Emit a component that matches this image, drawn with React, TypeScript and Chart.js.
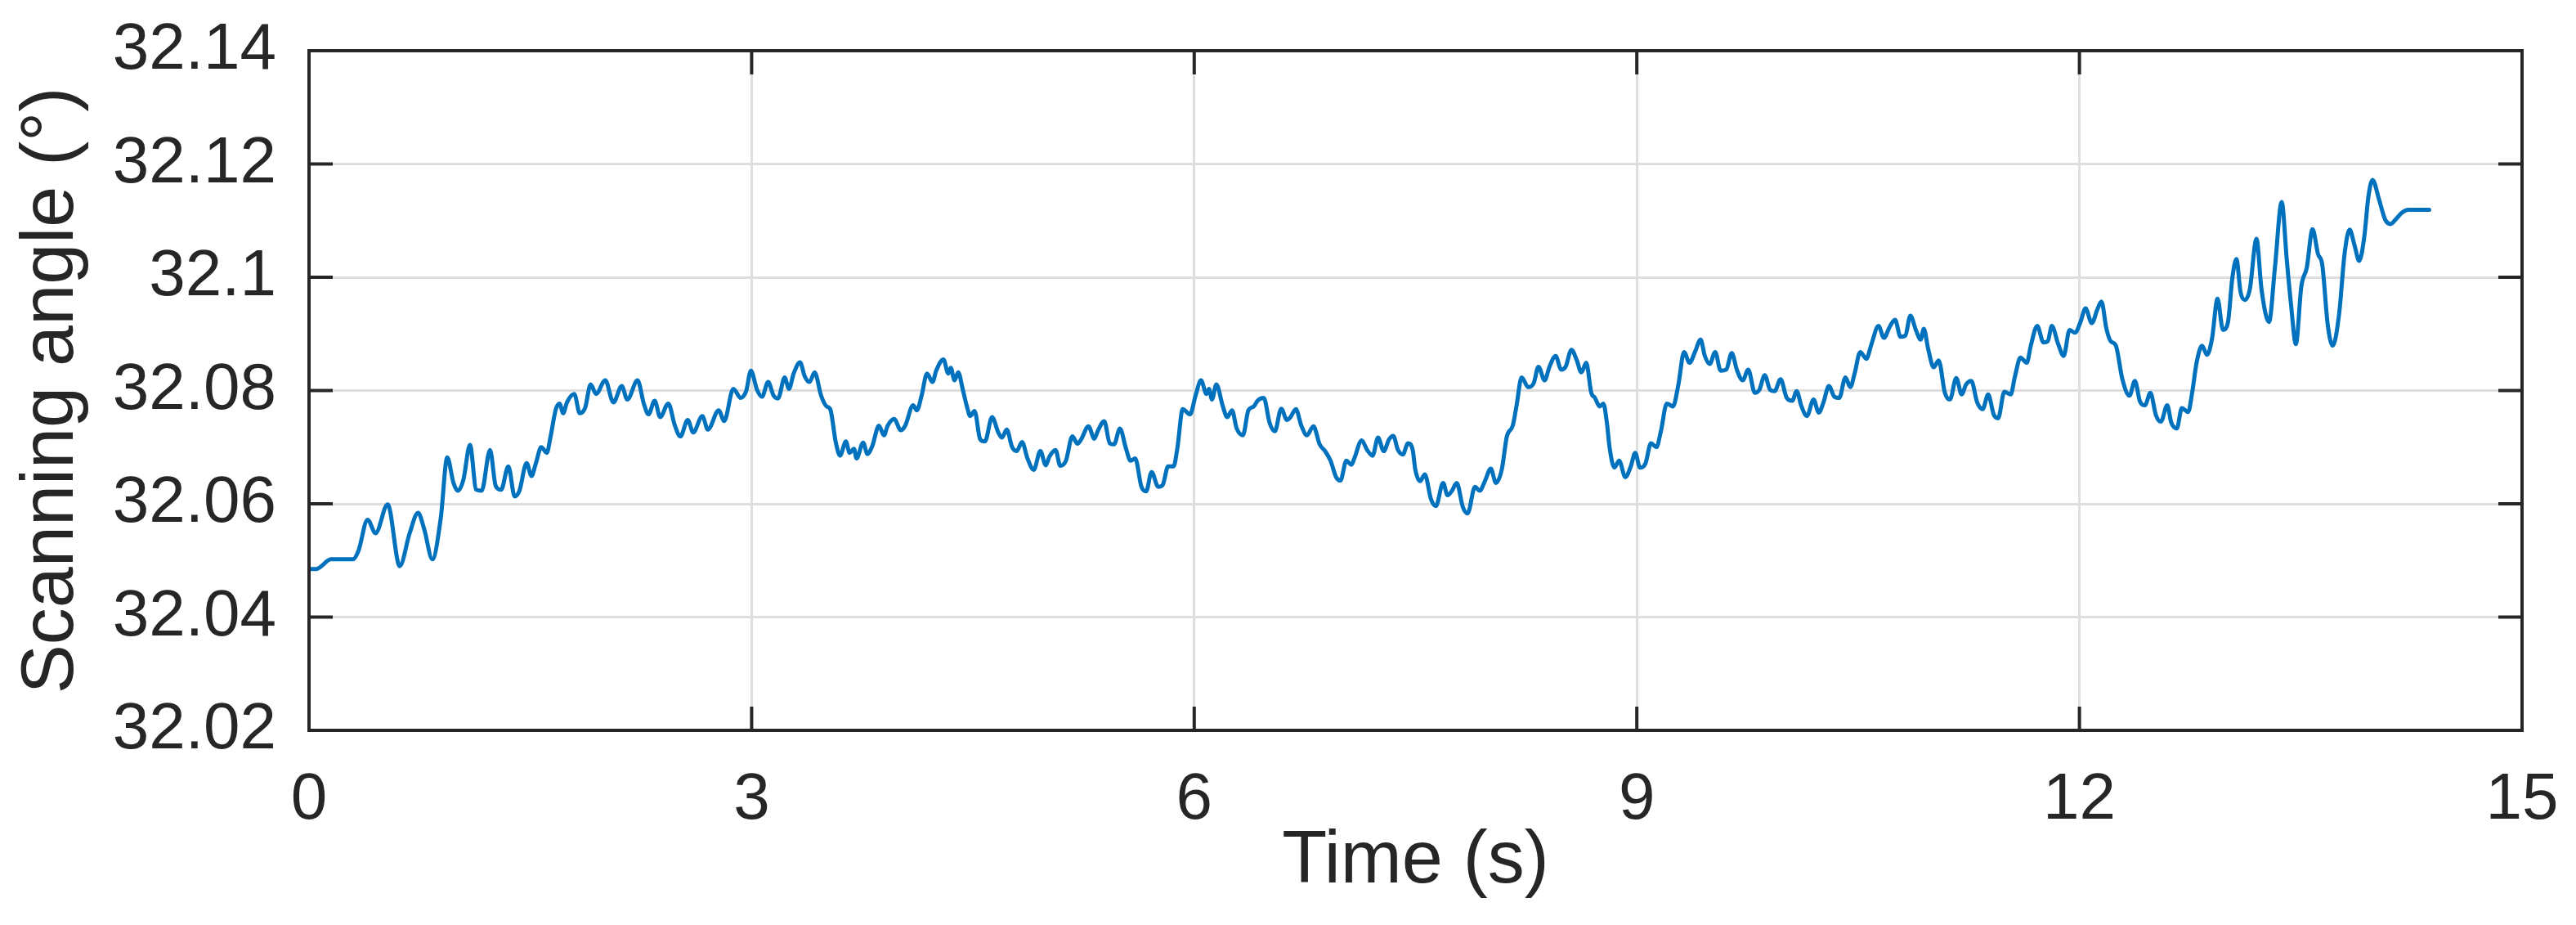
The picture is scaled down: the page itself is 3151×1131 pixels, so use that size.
import React, { useEffect, useRef } from "react";
import { Chart, registerables } from "chart.js";

Chart.register(...registerables);

// ---- data ----
const timeS = [
  0.000, 0.050, 0.149, 0.298, 0.335, 0.397, 0.451, 0.533, 0.615, 0.682, 0.739, 0.781, 0.836, 0.893, 0.937, 0.979,
  1.009, 1.046, 1.091, 1.133, 1.170, 1.227, 1.265, 1.302, 1.351, 1.394, 1.426, 1.475, 1.508, 1.537, 1.574, 1.612,
  1.636, 1.673, 1.698, 1.723, 1.748, 1.798, 1.835, 1.872, 1.909, 1.946, 2.008, 2.063, 2.120, 2.157, 2.227, 2.269,
  2.301, 2.343, 2.380, 2.435, 2.480, 2.517, 2.567, 2.604, 2.666, 2.703, 2.777, 2.814, 2.876, 2.926, 2.963, 2.995,
  3.037, 3.070, 3.112, 3.149, 3.179, 3.224, 3.253, 3.285, 3.328, 3.360, 3.392, 3.427, 3.471, 3.508, 3.533, 3.570,
  3.599, 3.639, 3.664, 3.694, 3.711, 3.756, 3.785, 3.818, 3.863, 3.897, 3.922, 3.966, 4.011, 4.041, 4.095, 4.120,
  4.152, 4.189, 4.226, 4.251, 4.300, 4.333, 4.350, 4.375, 4.400, 4.432, 4.457, 4.482, 4.511, 4.549, 4.581, 4.630,
  4.672, 4.697, 4.729, 4.766, 4.796, 4.833, 4.870, 4.912, 4.957, 4.994, 5.018, 5.060, 5.092, 5.130, 5.174, 5.209,
  5.234, 5.283, 5.323, 5.347, 5.390, 5.427, 5.457, 5.496, 5.538, 5.568, 5.600, 5.642, 5.674, 5.711, 5.756, 5.786,
  5.823, 5.860, 5.885, 5.922, 5.972, 6.009, 6.046, 6.083, 6.100, 6.120, 6.150, 6.194, 6.224, 6.256, 6.288, 6.330,
  6.367, 6.404, 6.429, 6.471, 6.511, 6.546, 6.590, 6.628, 6.652, 6.689, 6.726, 6.764, 6.808, 6.850, 6.887, 6.924,
  6.962, 6.991, 7.031, 7.066, 7.085, 7.135, 7.172, 7.209, 7.246, 7.284, 7.321, 7.349, 7.381, 7.414, 7.449, 7.481,
  7.498, 7.531, 7.563, 7.605, 7.638, 7.687, 7.717, 7.747, 7.779, 7.821, 7.853, 7.903, 7.935, 7.970, 8.010, 8.045,
  8.085, 8.119, 8.159, 8.184, 8.219, 8.264, 8.301, 8.333, 8.375, 8.408, 8.450, 8.487, 8.517, 8.557, 8.592, 8.624,
  8.657, 8.691, 8.716, 8.748, 8.773, 8.798, 8.815, 8.848, 8.880, 8.922, 8.959, 8.989, 9.021, 9.058, 9.096, 9.133,
  9.163, 9.203, 9.245, 9.282, 9.320, 9.357, 9.394, 9.432, 9.461, 9.494, 9.531, 9.568, 9.606, 9.643, 9.680, 9.718,
  9.755, 9.800, 9.830, 9.867, 9.904, 9.934, 9.974, 10.016, 10.054, 10.083, 10.116, 10.153, 10.198, 10.233, 10.265, 10.302,
  10.339, 10.372, 10.414, 10.447, 10.476, 10.514, 10.556, 10.588, 10.638, 10.675, 10.713, 10.750, 10.787, 10.820, 10.854, 10.894,
  10.924, 10.945, 10.975, 11.012, 11.046, 11.088, 11.122, 11.165, 11.202, 11.230, 11.267, 11.307, 11.344, 11.381, 11.420, 11.449,
  11.491, 11.534, 11.563, 11.600, 11.643, 11.671, 11.714, 11.756, 11.785, 11.813, 11.856, 11.893, 11.933, 11.970, 12.007, 12.041,
  12.084, 12.121, 12.149, 12.183, 12.212, 12.246, 12.291, 12.339, 12.376, 12.410, 12.444, 12.481, 12.518, 12.552, 12.595, 12.623,
  12.660, 12.694, 12.737, 12.765, 12.794, 12.831, 12.865, 12.899, 12.936, 12.973, 13.007, 13.036, 13.064, 13.092, 13.121, 13.155,
  13.200, 13.234, 13.285, 13.325, 13.371, 13.405, 13.433, 13.467, 13.504, 13.541, 13.580, 13.617, 13.646, 13.683, 13.717, 13.760,
  13.797, 13.831, 13.865, 13.896, 13.930, 13.959, 13.987, 14.030, 14.072, 14.109, 14.143, 14.186, 14.229, 14.371,
];

const angleDeg = [
  32.0485, 32.0485, 32.0502, 32.0502, 32.0517, 32.0572, 32.0548, 32.0599, 32.0490, 32.0548, 32.0584, 32.0555, 32.0502, 32.0575, 32.0682, 32.0637,
  32.0623, 32.0642, 32.0704, 32.0625, 32.0623, 32.0695, 32.0632, 32.0625, 32.0666, 32.0613, 32.0623, 32.0672, 32.0649, 32.0671, 32.0700, 32.0690,
  32.0717, 32.0767, 32.0777, 32.0760, 32.0779, 32.0794, 32.0760, 32.0770, 32.0811, 32.0794, 32.0818, 32.0779, 32.0808, 32.0784, 32.0818, 32.0777,
  32.0758, 32.0782, 32.0753, 32.0777, 32.0738, 32.0719, 32.0748, 32.0726, 32.0755, 32.0731, 32.0765, 32.0746, 32.0803, 32.0787, 32.0799, 32.0835,
  32.0801, 32.0789, 32.0815, 32.0791, 32.0786, 32.0823, 32.0803, 32.0830, 32.0850, 32.0825, 32.0815, 32.0832, 32.0791, 32.0772, 32.0767, 32.0709,
  32.0685, 32.0710, 32.0690, 32.0697, 32.0680, 32.0708, 32.0688, 32.0702, 32.0738, 32.0721, 32.0738, 32.0750, 32.0730, 32.0738, 32.0774, 32.0765,
  32.0791, 32.0830, 32.0815, 32.0835, 32.0855, 32.0830, 32.0840, 32.0818, 32.0832, 32.0801, 32.0774, 32.0755, 32.0764, 32.0714, 32.0710, 32.0753,
  32.0726, 32.0717, 32.0731, 32.0700, 32.0693, 32.0709, 32.0680, 32.0660, 32.0693, 32.0668, 32.0683, 32.0695, 32.0667, 32.0676, 32.0719, 32.0706,
  32.0714, 32.0737, 32.0715, 32.0729, 32.0746, 32.0707, 32.0705, 32.0733, 32.0697, 32.0676, 32.0680, 32.0630, 32.0622, 32.0656, 32.0630, 32.0633,
  32.0666, 32.0666, 32.0697, 32.0767, 32.0758, 32.0791, 32.0818, 32.0794, 32.0803, 32.0784, 32.0811, 32.0772, 32.0753, 32.0765, 32.0733, 32.0721,
  32.0765, 32.0772, 32.0782, 32.0787, 32.0743, 32.0728, 32.0768, 32.0748, 32.0753, 32.0767, 32.0738, 32.0721, 32.0737, 32.0705, 32.0693, 32.0676,
  32.0647, 32.0641, 32.0676, 32.0669, 32.0680, 32.0712, 32.0695, 32.0685, 32.0717, 32.0693, 32.0714, 32.0720, 32.0695, 32.0687, 32.0707, 32.0695,
  32.0661, 32.0640, 32.0652, 32.0608, 32.0596, 32.0637, 32.0615, 32.0623, 32.0637, 32.0594, 32.0583, 32.0630, 32.0623, 32.0640, 32.0662, 32.0637,
  32.0661, 32.0719, 32.0738, 32.0772, 32.0823, 32.0806, 32.0813, 32.0842, 32.0818, 32.0842, 32.0861, 32.0837, 32.0842, 32.0872, 32.0854, 32.0832,
  32.0849, 32.0796, 32.0787, 32.0772, 32.0777, 32.0741, 32.0700, 32.0664, 32.0676, 32.0647, 32.0666, 32.0690, 32.0664, 32.0671, 32.0707, 32.0700,
  32.0728, 32.0777, 32.0772, 32.0811, 32.0868, 32.0849, 32.0868, 32.0890, 32.0861, 32.0847, 32.0868, 32.0835, 32.0837, 32.0866, 32.0835, 32.0818,
  32.0837, 32.0796, 32.0801, 32.0827, 32.0801, 32.0799, 32.0820, 32.0787, 32.0782, 32.0799, 32.0772, 32.0755, 32.0784, 32.0761, 32.0779, 32.0808,
  32.0789, 32.0787, 32.0823, 32.0806, 32.0830, 32.0868, 32.0856, 32.0880, 32.0914, 32.0893, 32.0912, 32.0925, 32.0895, 32.0897, 32.0932, 32.0905,
  32.0890, 32.0909, 32.0873, 32.0841, 32.0853, 32.0796, 32.0784, 32.0822, 32.0793, 32.0810, 32.0817, 32.0779, 32.0767, 32.0793, 32.0757, 32.0751,
  32.0798, 32.0793, 32.0825, 32.0858, 32.0849, 32.0880, 32.0914, 32.0885, 32.0887, 32.0914, 32.0882, 32.0861, 32.0907, 32.0902, 32.0921, 32.0945,
  32.0919, 32.0943, 32.0957, 32.0909, 32.0887, 32.0880, 32.0820, 32.0791, 32.0817, 32.0781, 32.0774, 32.0796, 32.0757, 32.0745, 32.0774, 32.0743,
  32.0733, 32.0769, 32.0762, 32.0798, 32.0849, 32.0879, 32.0863, 32.0892, 32.0962, 32.0907, 32.0921, 32.0998, 32.1032, 32.0974, 32.0960, 32.0979,
  32.1068, 32.0979, 32.0921, 32.1017, 32.1133, 32.1032, 32.0955, 32.0882, 32.0984, 32.1017, 32.1085, 32.1041, 32.1022, 32.0916, 32.0879, 32.0935,
  32.1041, 32.1084, 32.1056, 32.1029, 32.1070, 32.1143, 32.1172, 32.1138, 32.1102, 32.1094, 32.1102, 32.1114, 32.1119, 32.1119,
];

const xTickValues = [0, 3, 6, 9, 12, 15];
const xTickLabels = ["0", "3", "6", "9", "12", "15"];
const yTickValues = [32.02, 32.04, 32.06, 32.08, 32.1, 32.12, 32.14];
const yTickLabels = ["32.02", "32.04", "32.06", "32.08", "32.1", "32.12", "32.14"];
const xTitle = "Time (s)";
const yTitle = "Scanning angle (°)";

// ---- layout / style ----
const W = 3151;
const H = 1131;
const FONT = '"Liberation Sans", Arial, Helvetica, sans-serif';
const INK = "#262626";
const GRID = "#dedede";
const LINE = "#0072BD";

const framePlugin = {
  id: "matlabFrame",
  afterDraw(chart: any) {
    const { ctx, chartArea: a, scales } = chart;
    const xs = scales.x;
    const ys = scales.y;
    const tick = 29;
    ctx.save();
    ctx.strokeStyle = INK;
    ctx.lineWidth = 4;
    ctx.beginPath();
    for (const v of xTickValues) {
      const px = xs.getPixelForValue(v);
      ctx.moveTo(px, a.bottom);
      ctx.lineTo(px, a.bottom - tick);
      ctx.moveTo(px, a.top);
      ctx.lineTo(px, a.top + tick);
    }
    for (const v of yTickValues) {
      const py = ys.getPixelForValue(v);
      ctx.moveTo(a.left, py);
      ctx.lineTo(a.left + tick, py);
      ctx.moveTo(a.right, py);
      ctx.lineTo(a.right - tick, py);
    }
    ctx.stroke();
    ctx.lineJoin = "miter";
    ctx.strokeRect(a.left, a.top, a.right - a.left, a.bottom - a.top);
    ctx.restore();
  },
};

export default function App() {
  const canvasRef = useRef<HTMLCanvasElement | null>(null);

  useEffect(() => {
    document.body.style.margin = "0";
    document.body.style.overflow = "hidden";
    const canvas = canvasRef.current;
    if (!canvas) return;
    const points = timeS.map((t, i) => ({ x: t, y: angleDeg[i] }));
    const chart = new Chart(canvas, {
      type: "line",
      data: {
        datasets: [
          {
            data: points,
            borderColor: LINE,
            borderWidth: 5,
            pointRadius: 0,
            fill: false,
            cubicInterpolationMode: "monotone",
            borderJoinStyle: "round",
            borderCapStyle: "round",
          } as any,
        ],
      },
      options: {
        responsive: false,
        animation: false,
        devicePixelRatio: 1,
        events: [],
        layout: { padding: { left: 0, top: 62, right: 66, bottom: 0 } },
        plugins: {
          legend: { display: false },
          tooltip: { enabled: false },
          title: { display: false },
        },
        scales: {
          x: {
            type: "linear",
            min: 0,
            max: 15,
            afterBuildTicks: (s: any) => {
              s.ticks = xTickValues.map((v) => ({ value: v }));
            },
            afterFit: (s: any) => {
              s.height = 238;
              s.paddingLeft = 0;
              s.paddingRight = 0;
            },
            grid: { color: GRID, lineWidth: 3, drawTicks: false },
            border: { display: false },
            ticks: {
              padding: 38,
              color: INK,
              font: { family: FONT, size: 80 },
              maxRotation: 0,
              autoSkip: false,
              callback: (_v: any, i: number) => xTickLabels[i],
            },
            title: {
              display: true,
              text: xTitle,
              color: INK,
              font: { family: FONT, size: 90 },
              padding: { top: 0, bottom: 23 },
            },
          },
          y: {
            type: "linear",
            min: 32.02,
            max: 32.14,
            afterBuildTicks: (s: any) => {
              s.ticks = yTickValues.map((v) => ({ value: v }));
            },
            afterFit: (s: any) => {
              s.width = 378;
              s.paddingTop = 0;
              s.paddingBottom = 0;
            },
            grid: { color: GRID, lineWidth: 3, drawTicks: false },
            border: { display: false },
            ticks: {
              padding: 40,
              color: INK,
              font: { family: FONT, size: 80 },
              autoSkip: false,
              callback: (_v: any, i: number) => yTickLabels[i],
            },
            title: {
              display: true,
              text: yTitle,
              color: INK,
              font: { family: FONT, size: 90 },
              padding: { top: 10, bottom: 0 },
            },
          },
        },
      } as any,
      plugins: [framePlugin],
    });
    return () => chart.destroy();
  }, []);

  return (
    <div style={{ position: "absolute", left: 0, top: 0, width: W, height: H, background: "#ffffff" }}>
      <canvas ref={canvasRef} width={W} height={H} style={{ display: "block", width: W, height: H }} />
    </div>
  );
}
